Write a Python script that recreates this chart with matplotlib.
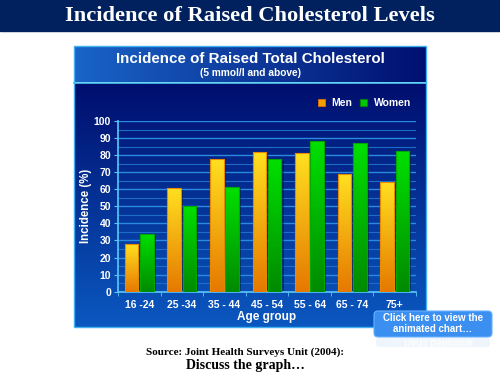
import numpy as np
import matplotlib
matplotlib.use("Agg")
import matplotlib.pyplot as plt
from matplotlib.patches import Rectangle, FancyBboxPatch
from matplotlib.colors import LinearSegmentedColormap

categories = ["16 -24", "25 -34", "35 - 44", "45 - 54", "55 - 64", "65 - 74", "75+"]
men = [28, 60.5, 77.5, 82, 81, 69, 64]
women = [34, 50, 61.5, 77.5, 88, 87, 82.5]
yticks = list(range(0, 101, 10))

W, H = 500, 375
fig = plt.figure(figsize=(5, 3.75), dpi=100, facecolor="white")

# overlay axes in pixel coords
ov = fig.add_axes([0, 0, 1, 1], zorder=0)
ov.set_xlim(0, W)
ov.set_ylim(H, 0)
ov.axis("off")

def vgrad(ax, x0, x1, y0, y1, ctop, cbot, z=1, clip=None):
    cmap = LinearSegmentedColormap.from_list("g", [ctop, cbot])
    g = np.linspace(0, 1, 256).reshape(-1, 1)
    im = ax.imshow(g, cmap=cmap, extent=[x0, x1, y1, y0], aspect="auto", zorder=z, interpolation="bilinear")
    if clip is not None:
        im.set_clip_path(clip)
    return im

def hgrad(ax, x0, x1, y0, y1, cleft, cright, z=1):
    cmap = LinearSegmentedColormap.from_list("g", [cleft, cright])
    g = np.linspace(0, 1, 256).reshape(1, -1)
    ax.imshow(g, cmap=cmap, extent=[x0, x1, y1, y0], aspect="auto", zorder=z, interpolation="bilinear")

# top banner
ov.add_patch(Rectangle((0, 0), W, 31, color="#00205e", zorder=1))
ov.text(250, 16, "Incidence of Raised Cholesterol Levels", color="white", ha="center", va="center",
        fontsize=16.2, fontweight="bold", family="Liberation Serif", zorder=3)

# chart panel
px0, px1, py0, py1 = 74, 426, 46, 327
hgrad(ov, px0, px1, py0, 82, "#1a64c8", "#001070", z=1)
vgrad(ov, px0, px1, 83, py1, "#000e6e", "#0a58c0", z=1)
ov.plot([px0, px1], [82.5, 82.5], color="#4ec8f0", lw=1.2, zorder=2)
ov.add_patch(Rectangle((px0, py0), px1 - px0, py1 - py0, fill=False, ec="#3fb0f0", lw=1.0, zorder=2))
ov.set_xlim(0, W)
ov.set_ylim(H, 0)
ov.text(250, 59, "Incidence of Raised Total Cholesterol", color="white", ha="center", va="center",
        fontsize=10.9, fontweight="bold", family="Liberation Sans", zorder=3)
ov.text(250, 73, "(5 mmol/l and above)", color="white", ha="center", va="center",
        fontsize=7.3, fontweight="bold", family="Liberation Sans", zorder=3)

# legend
ov.add_patch(Rectangle((318, 99), 7, 7, fc="#f0a000", ec="#e07000", lw=0.6, zorder=3))
ov.text(331, 103, "Men", color="white", va="center", fontsize=7.5, fontweight="bold", family="Liberation Sans", zorder=3)
ov.add_patch(Rectangle((360, 99), 7, 7, fc="#00c800", ec="#008800", lw=0.6, zorder=3))
ov.text(374, 103, "Women", color="white", va="center", fontsize=7.5, fontweight="bold", family="Liberation Sans", zorder=3)

# footer texts
ov.text(245, 352, "Source: Joint Health Surveys Unit (2004):", color="black", ha="center", va="center",
        fontsize=8, fontweight="bold", family="Liberation Serif", zorder=3)
ov.text(245, 366, "Discuss the graph\u2026", color="black", ha="center", va="center",
        fontsize=10, fontweight="bold", family="Liberation Serif", zorder=3)

# button
btn = FancyBboxPatch((374, 311), 118, 26, boxstyle="round,pad=0,rounding_size=4",
                     fc="#3a8ff0", ec="#6ab0ff", lw=0.8, zorder=4)
ov.add_patch(btn)
ov.text(433, 318, "Click here to view the", color="white", ha="center", va="center",
        fontsize=7, fontweight="bold", family="Liberation Sans", zorder=5)
ov.text(433, 329.5, "animated chart\u2026", color="white", ha="center", va="center",
        fontsize=7, fontweight="bold", family="Liberation Sans", zorder=5)
ov.add_patch(FancyBboxPatch((376, 338), 114, 9, boxstyle="round,pad=0,rounding_size=3",
                            fc="#dce9fb", ec="none", alpha=0.45, zorder=4))
ov.text(433, 341.5, "animated chart\u2026", color="white", ha="center", va="center", rotation=180,
        fontsize=7, fontweight="bold", family="Liberation Sans", zorder=5, alpha=0.9)

# main axes
ax_left, ax_right = 118 / W, 416 / W
ax_bottom, ax_top = (H - 291.7) / H, (H - 121) / H
ax = fig.add_axes([ax_left, ax_bottom, ax_right - ax_left, ax_top - ax_bottom], zorder=2)
ax.patch.set_alpha(0)
n = len(categories)
x = np.arange(n)
bw = 0.32
ax.set_xlim(-0.5, n - 0.5)
ax.set_ylim(0, 100)

# gridlines
for v in range(5, 101, 5):
    ax.axhline(v, color="#2a8ae0" if v % 10 == 0 else "#1c6cc8", lw=1.0 if v % 10 == 0 else 0.8, zorder=1)

mb = ax.bar(x - bw / 2 - 0.02, men, width=bw, color="none", edgecolor="#e88a00", lw=0.8, zorder=4)
wb = ax.bar(x + bw / 2 + 0.02, women, width=bw, color="none", edgecolor="#00a800", lw=0.8, zorder=4)

for bars, ctop, cbot in [(mb, "#ffe020", "#e67800"), (wb, "#00e000", "#008a00")]:
    for b in bars:
        bx, bh, bwid = b.get_x(), b.get_height(), b.get_width()
        ax.add_patch(Rectangle((bx + 0.05, 0), bwid, bh - 1.0, fc="#001040", alpha=0.5, lw=0, zorder=2))
        vgrad(ax, bx, bx + bwid, bh, 0, ctop, cbot, z=3, clip=b)
ax.set_xlim(-0.5, n - 0.5)
ax.set_ylim(0, 100)
ax.set_aspect("auto")

for s in ["top", "right"]:
    ax.spines[s].set_visible(False)
for s in ["left", "bottom"]:
    ax.spines[s].set_color("#5ac8f8")
    ax.spines[s].set_linewidth(1.2)
ax.set_yticks(yticks)
ax.set_yticklabels([str(v) for v in yticks])
ax.set_xticks(x)
ax.set_xticklabels(categories)
ax.set_xticks(np.arange(-0.5, n, 1.0), minor=True)
ax.tick_params(axis="x", which="major", length=0, pad=6, colors="white", labelsize=7.5)
ax.tick_params(axis="x", which="minor", length=3, color="#5ac8f8", direction="out")
ax.tick_params(axis="y", length=3, color="#5ac8f8", pad=2, colors="white", labelsize=7.5)
for lab in ax.get_xticklabels() + ax.get_yticklabels():
    lab.set_fontweight("bold")
    lab.set_family("Liberation Sans")
    lab.set_color("white")
ax.set_xlabel("Age group", color="white", fontsize=8.5, fontweight="bold", family="Liberation Sans", labelpad=1)
ax.set_ylabel("Incidence (%)", color="white", fontsize=8.3, fontweight="bold", family="Liberation Sans", labelpad=1)

fig.savefig("out.png", dpi=100, facecolor="white")
